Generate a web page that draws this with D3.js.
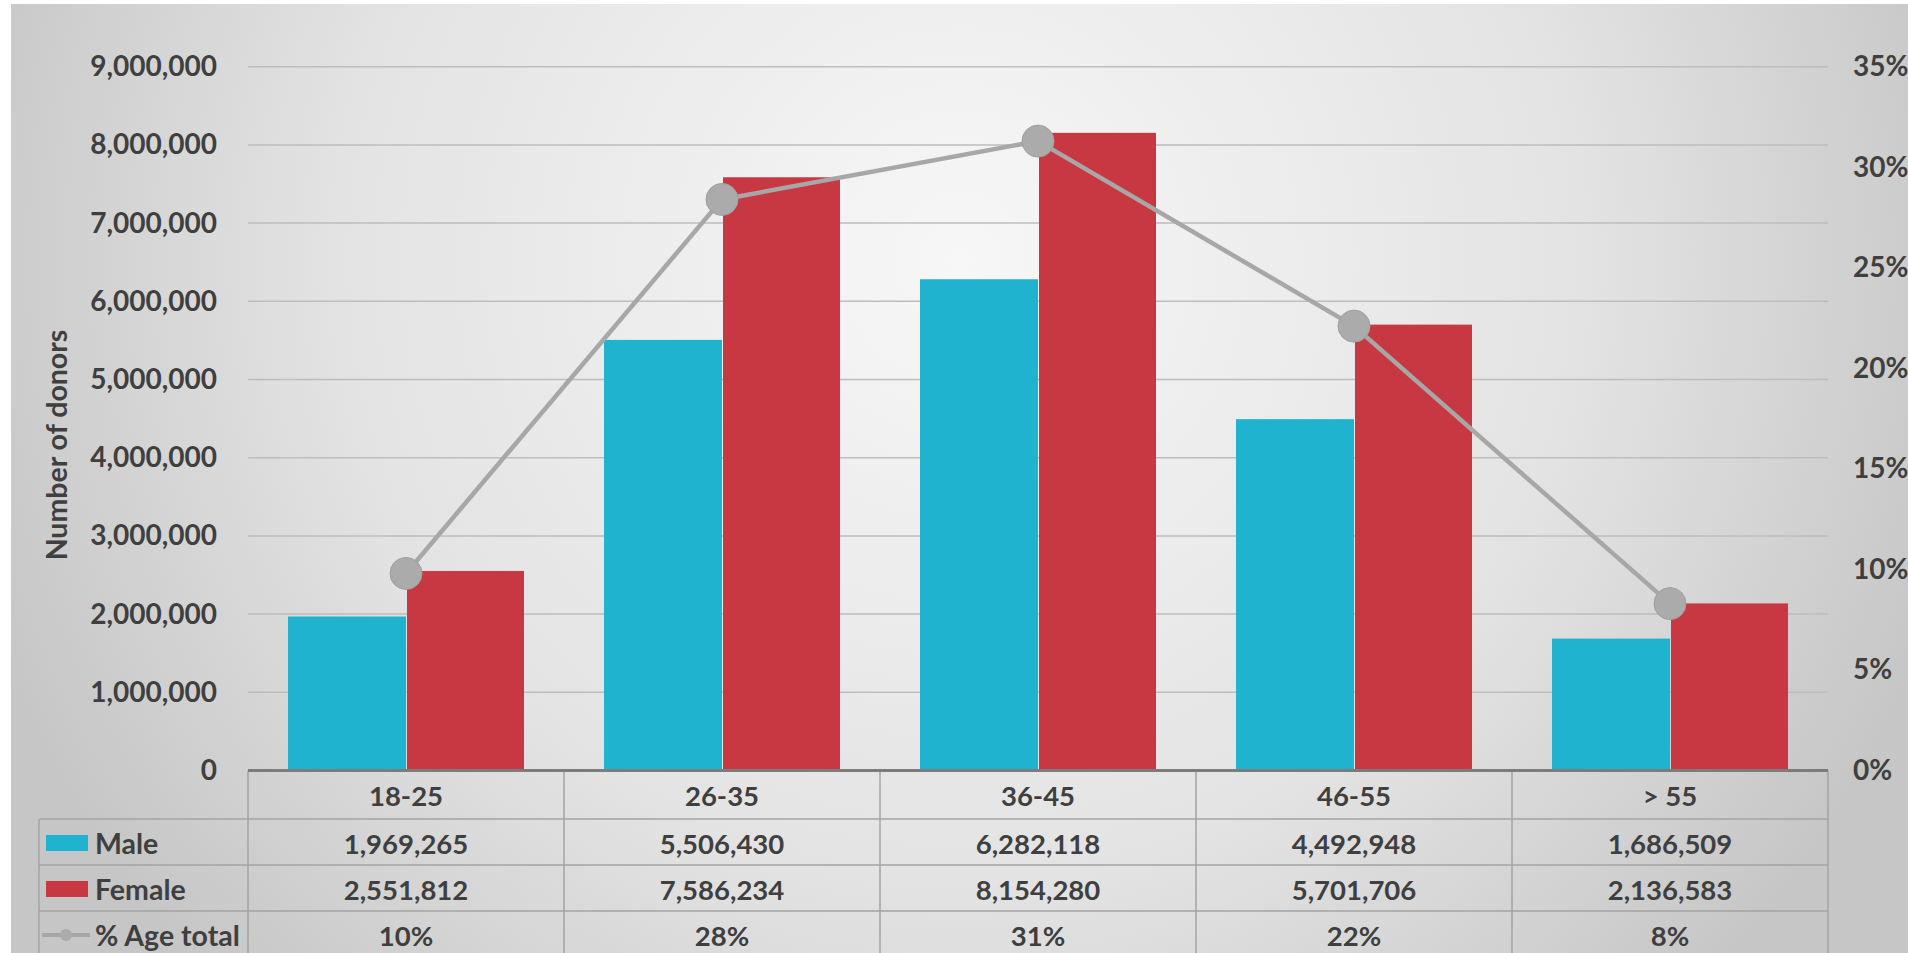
<!DOCTYPE html>
<html>
<head>
<meta charset="utf-8">
<script src="https://cdn.jsdelivr.net/npm/d3@7"></script>
<style>
  html, body { margin: 0; padding: 0; background: #ffffff; }
  svg { display: block; }
  text { font-family: Lato, "Open Sans", "DejaVu Sans", sans-serif; font-weight: bold; fill: #3f3f3f; }
</style>
</head>
<body>
<svg id="chart" width="1908" height="953"></svg>
<script>
// ---- data ----
const categories = ["18-25", "26-35", "36-45", "46-55", "> 55"];
const maleValues = [1969265, 5506430, 6282118, 4492948, 1686509];
const femaleValues = [2551812, 7586234, 8154280, 5701706, 2136583];
const pctTotal = [0.098, 0.284, 0.313, 0.221, 0.083];
const seriesNames = ["Male", "Female", "% Age total"];
const leftTickValues = [0, 1000000, 2000000, 3000000, 4000000, 5000000, 6000000, 7000000, 8000000, 9000000];
const rightTickValues = [0, 0.05, 0.10, 0.15, 0.20, 0.25, 0.30, 0.35];
const yAxisTitle = "Number of donors";

// ---- layout ----
const W = 1908, H = 953;
const plotL = 248, plotR = 1828, plotT = 66.7, plotB = 770.5;
const rowLines = [770.5, 819, 865, 911, 957];
const labelColL = 39;
const colors = { Male: "#20b3cf", Female: "#c83843", line: "#a7a7a7" };

const svg = d3.select("#chart");
const defs = svg.append("defs");
const grad = defs.append("radialGradient")
  .attr("id", "bg").attr("gradientUnits", "userSpaceOnUse")
  .attr("cx", 960).attr("cy", 260).attr("r", 1040);
grad.append("stop").attr("offset", 0).attr("stop-color", "#f7f7f7");
grad.append("stop").attr("offset", 0.6).attr("stop-color", "#e3e3e3");
grad.append("stop").attr("offset", 1).attr("stop-color", "#c6c6c6");

svg.append("rect").attr("x", 11).attr("y", 4).attr("width", W - 11).attr("height", H - 4)
  .attr("fill", "url(#bg)");

// scales
const x = d3.scaleBand().domain(categories).range([plotL, plotR])
  .paddingInner(0.2532).paddingOuter(0.1266);
const xSub = d3.scaleBand().domain(["Male", "Female"]).range([0, x.bandwidth()]);
const yL = d3.scaleLinear().domain([0, 9000000]).range([plotB, plotT]);
const yR = d3.scaleLinear().domain([0, 0.35]).range([plotB, plotT]);

// gridlines
svg.append("g").selectAll("line").data(leftTickValues.filter(d => d > 0)).join("line")
  .attr("x1", plotL).attr("x2", plotR)
  .attr("y1", d => yL(d)).attr("y2", d => yL(d))
  .attr("stroke", "#bdbdbd").attr("stroke-width", 1.5);

// bars
const barData = categories.map((c, i) => [
  { cat: c, key: "Male", v: maleValues[i] },
  { cat: c, key: "Female", v: femaleValues[i] }
]).flat();
svg.append("g").selectAll("rect").data(barData).join("rect")
  .attr("x", d => x(d.cat) + xSub(d.key) + (d.key === "Female" ? 1 : 0))
  .attr("width", d => xSub.bandwidth() - (d.key === "Female" ? 1 : 0))
  .attr("y", d => yL(d.v))
  .attr("height", d => yL(0) - yL(d.v))
  .attr("fill", d => colors[d.key]);

// line series
const linePts = categories.map((c, i) => ({ cat: c, p: pctTotal[i] }));
const lineGen = d3.line().x(d => x(d.cat) + x.bandwidth() / 2).y(d => yR(d.p));
svg.append("path").datum(linePts).attr("d", lineGen)
  .attr("fill", "none").attr("stroke", colors.line).attr("stroke-width", 4.5)
  .attr("stroke-linejoin", "round");
svg.append("g").selectAll("circle").data(linePts).join("circle")
  .attr("cx", d => x(d.cat) + x.bandwidth() / 2).attr("cy", d => yR(d.p))
  .attr("r", 16).attr("fill", "#ababab").attr("stroke", "#a0a0a0").attr("stroke-width", 1);

// axes
const leftAxis = d3.axisLeft(yL).tickValues(leftTickValues).tickSize(0).tickPadding(31)
  .tickFormat(d3.format(","));
const gL = svg.append("g").attr("transform", `translate(${plotL},0)`).call(leftAxis);
gL.select(".domain").remove();
gL.selectAll("text").attr("font-size", 28).attr("fill", "#3f3f3f")
  .style("font-family", "Lato, 'Open Sans', sans-serif").style("font-weight", "bold");

const rightAxis = d3.axisRight(yR).tickValues(rightTickValues).tickSize(0).tickPadding(25)
  .tickFormat(d3.format(".0%"));
const gR = svg.append("g").attr("transform", `translate(${plotR},0)`).call(rightAxis);
gR.select(".domain").remove();
gR.selectAll("text").attr("font-size", 28).attr("fill", "#3f3f3f")
  .style("font-family", "Lato, 'Open Sans', sans-serif").style("font-weight", "bold");

svg.append("text")
  .attr("transform", `translate(56,445) rotate(-90)`)
  .attr("text-anchor", "middle").attr("dominant-baseline", "central")
  .attr("font-size", 28.5).text(yAxisTitle);

// ---- data table ----
const tbl = svg.append("g");
const tableStroke = "#a3a3a3";
rowLines.slice(1).forEach(yv => {
  tbl.append("line").attr("x1", labelColL).attr("x2", plotR).attr("y1", yv).attr("y2", yv)
    .attr("stroke", tableStroke).attr("stroke-width", 1.5);
});
const colEdges = categories.map(c => x(c) - (x.step() - x.bandwidth()) / 2).concat([plotR]);
colEdges.forEach(xv => {
  tbl.append("line").attr("x1", xv).attr("x2", xv).attr("y1", rowLines[0]).attr("y2", H)
    .attr("stroke", tableStroke).attr("stroke-width", 1.5);
});
tbl.append("line").attr("x1", labelColL).attr("x2", labelColL).attr("y1", rowLines[1]).attr("y2", H)
  .attr("stroke", tableStroke).attr("stroke-width", 1.5);

// zero axis line
svg.append("line").attr("x1", plotL).attr("x2", plotR).attr("y1", yL(0)).attr("y2", yL(0))
  .attr("stroke", "#7c7c7c").attr("stroke-width", 3);

const rowMid = i => (rowLines[i] + rowLines[i + 1]) / 2 + 1;
const fmtN = d3.format(",");
const fmtP = d3.format(".0%");
const rows = [
  categories,
  maleValues.map(fmtN),
  femaleValues.map(fmtN),
  pctTotal.map(fmtP)
];
rows.forEach((vals, r) => {
  tbl.append("g").selectAll("text").data(vals).join("text")
    .attr("x", (d, i) => x(categories[i]) + x.bandwidth() / 2)
    .attr("y", rowMid(r))
    .attr("text-anchor", "middle").attr("dominant-baseline", "central")
    .attr("font-size", 27.5).text(d => d);
});

// legend keys in row labels
seriesNames.forEach((name, k) => {
  const cy = rowMid(k + 1);
  if (k < 2) {
    tbl.append("rect").attr("x", 46).attr("y", cy - 8).attr("width", 42).attr("height", 16)
      .attr("fill", colors[name]);
  } else {
    tbl.append("line").attr("x1", 42).attr("x2", 90).attr("y1", cy).attr("y2", cy)
      .attr("stroke", colors.line).attr("stroke-width", 4);
    tbl.append("circle").attr("cx", 66).attr("cy", cy).attr("r", 6).attr("fill", "#ababab");
  }
  tbl.append("text").attr("x", 95).attr("y", cy).attr("dominant-baseline", "central")
    .attr("font-size", 28.5).text(name);
});
</script>
</body>
</html>
